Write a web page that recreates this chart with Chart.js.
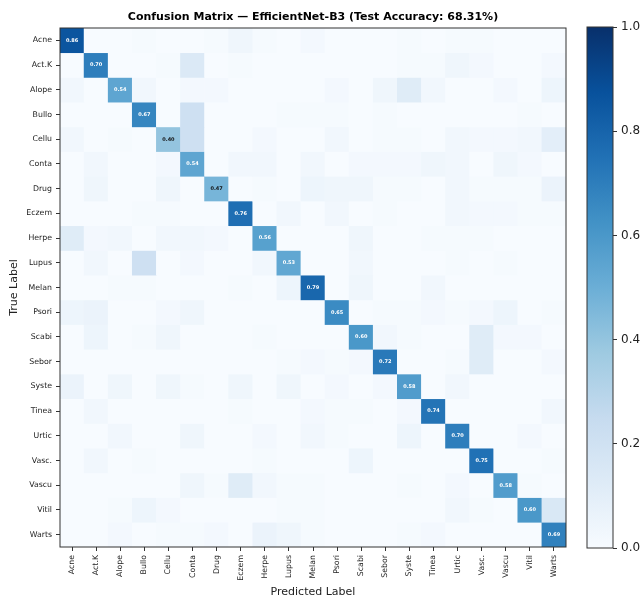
<!DOCTYPE html>
<html>
<head>
<meta charset="utf-8">
<script src="https://cdn.jsdelivr.net/npm/chart.js@4"></script>
<style>
  html, body { margin: 0; padding: 0; background: #fff; }
  #wrap { position: relative; width: 641px; height: 599px; }
  #wrap canvas { position: absolute; top: 0; }
</style>
</head>
<body>
<div id="wrap">
  <canvas id="cm" width="641" height="599" style="left:0"></canvas>
  <canvas id="cbar" width="66" height="599" style="left:575px"></canvas>
</div>
<script>
// class names, row = true label, column = predicted label
const classes = ['Acne', 'Act.K', 'Alope', 'Bullo', 'Cellu', 'Conta', 'Drug', 'Eczem', 'Herpe', 'Lupus',
  'Melan', 'Psori', 'Scabi', 'Sebor', 'Syste', 'Tinea', 'Urtic', 'Vasc.', 'Vascu', 'Vitil', 'Warts'];

// normalized confusion matrix (off-diagonals estimated from shading)
const matrix = [
  [0.86,0,0,0.01,0,0,0.01,0.04,0.01,0,0.02,0,0,0,0.01,0,0.01,0.01,0,0,0],
  [0,0.70,0,0,0.01,0.14,0,0.01,0,0,0,0,0,0,0.01,0.01,0.04,0.02,0,0,0.02],
  [0.03,0,0.54,0.03,0,0.02,0.02,0,0,0,0,0.02,0,0.04,0.12,0.03,0,0,0.02,0,0.05],
  [0,0,0,0.67,0,0.21,0,0,0,0.01,0.01,0.01,0,0.01,0,0,0,0,0,0.01,0],
  [0.03,0,0.01,0,0.40,0.21,0,0,0.02,0,0,0.03,0,0.01,0.01,0,0.03,0.02,0.02,0.03,0.10],
  [0,0.03,0,0,0.02,0.54,0,0.03,0.03,0,0.03,0,0.02,0.02,0.02,0.04,0.03,0,0.04,0.02,0],
  [0,0.04,0,0,0.04,0,0.47,0,0.01,0,0.05,0.04,0.04,0.01,0.01,0,0.03,0.01,0.01,0.01,0.06],
  [0,0,0,0.01,0.01,0,0,0.76,0,0.03,0,0.03,0,0.01,0,0,0.03,0.02,0.02,0.01,0.01],
  [0.12,0.02,0.03,0,0.03,0.03,0.02,0,0.56,0,0,0,0.04,0,0,0.01,0.01,0.01,0,0,0],
  [0,0.03,0,0.21,0,0.02,0,0,0.03,0.53,0,0,0.03,0,0,0,0.01,0,0.01,0,0],
  [0,0,0.01,0.01,0,0,0,0.01,0,0.05,0.79,0,0.04,0,0,0.03,0,0,0,0,0],
  [0.05,0.06,0,0,0.02,0.04,0,0,0,0,0,0.65,0,0.01,0.01,0.02,0.01,0.02,0.05,0,0.01],
  [0,0.05,0,0.01,0.04,0,0,0,0.01,0,0,0,0.60,0.03,0.01,0,0,0.12,0.02,0.02,0],
  [0,0,0,0,0,0,0,0,0,0.01,0.02,0.01,0.02,0.72,0,0,0.01,0.12,0,0,0.02],
  [0.06,0,0.04,0,0.04,0.01,0,0.04,0,0.04,0,0.02,0,0.02,0.58,0,0.03,0,0,0,0],
  [0,0.03,0,0,0,0,0,0.01,0,0,0.02,0.01,0.01,0,0.02,0.74,0,0,0,0,0.03],
  [0,0,0.03,0,0,0.04,0,0,0.02,0,0.03,0.01,0,0,0.05,0,0.70,0,0,0.02,0],
  [0,0.03,0,0.01,0,0,0,0,0.01,0,0,0,0.05,0,0,0,0,0.75,0,0,0.01],
  [0,0,0,0,0,0.04,0.01,0.12,0.03,0.01,0.01,0,0,0,0.01,0,0.02,0,0.58,0.01,0],
  [0,0,0.01,0.05,0.02,0,0,0,0,0.01,0.01,0,0,0,0,0,0.03,0.01,0,0.60,0.15],
  [0,0,0.02,0,0.01,0.01,0.02,0,0.06,0.04,0.01,0,0,0,0.01,0.02,0,0,0,0,0.69]
];

const colorbarTicks = [0, 0.2, 0.4, 0.6, 0.8, 1.0];
const titleText = 'Confusion Matrix \u2014 EfficientNet-B3 (Test Accuracy: 68.31%)';

// matplotlib "Blues"
const bluesStops = ['#f7fbff', '#deebf7', '#c6dbef', '#9ecae1', '#6baed6', '#4292c6', '#2171b5', '#08519c', '#08306b'];

function hexRgb(h) {
  return [parseInt(h.slice(1, 3), 16), parseInt(h.slice(3, 5), 16), parseInt(h.slice(5, 7), 16)];
}

function blues(v) {
  const t = Math.max(0, Math.min(1, v)) * (bluesStops.length - 1);
  const i = Math.min(Math.floor(t), bluesStops.length - 2);
  const f = t - i;
  const a = hexRgb(bluesStops[i]), b = hexRgb(bluesStops[i + 1]);
  const c = a.map((x, k) => Math.round(x + (b[k] - x) * f));
  return `rgb(${c[0]},${c[1]},${c[2]})`;
}

Chart.defaults.font.family = '"DejaVu Sans", sans-serif';
Chart.defaults.color = '#222';

// frame around the chart area (matplotlib spines)
const frame = {
  id: 'frame',
  afterDatasetsDraw(chart) {
    const { ctx, chartArea: a } = chart;
    ctx.save();
    ctx.strokeStyle = '#333';
    ctx.lineWidth = 1;
    ctx.strokeRect(a.left, a.top, a.right - a.left, a.bottom - a.top);
    ctx.restore();
  }
};

// paint the zero colour under the cells so no seams show
const cellBg = {
  id: 'cellBg',
  beforeDatasetsDraw(chart) {
    const { ctx, chartArea: a } = chart;
    ctx.save();
    ctx.fillStyle = blues(0);
    ctx.fillRect(a.left, a.top, a.right - a.left, a.bottom - a.top);
    ctx.restore();
  }
};

// value text in the diagonal cells
const cellText = {
  id: 'cellText',
  afterDatasetsDraw(chart) {
    const { ctx } = chart;
    ctx.save();
    ctx.font = 'bold 5px "DejaVu Sans"';
    ctx.textAlign = 'center';
    ctx.textBaseline = 'middle';
    matrix.forEach((row, r) => {
      const meta = chart.getDatasetMeta(r);
      row.forEach((v, c) => {
        if (v < 0.3) return;
        const p = meta.data[c].getCenterPoint();
        ctx.fillStyle = v > 0.5 ? '#fff' : '#111';
        ctx.fillText(v.toFixed(2), p.x, p.y);
      });
    });
    ctx.restore();
  }
};

const titlePlugin = {
  id: 'titlePlugin',
  afterDraw(chart) {
    const { ctx, chartArea: a } = chart;
    ctx.save();
    ctx.font = 'bold 11px "DejaVu Sans"';
    ctx.fillStyle = '#000';
    ctx.textAlign = 'center';
    ctx.textBaseline = 'middle';
    ctx.fillText(titleText, (a.left + a.right) / 2, 17);
    ctx.restore();
  }
};

const datasets = matrix.map((row, r) => ({
  label: classes[r],
  data: row.map(() => [r - 0.5, r + 0.5]),
  backgroundColor: row.map(blues),
  borderWidth: 0,
  barPercentage: 1,
  categoryPercentage: 1,
  grouped: false
}));

new Chart(document.getElementById('cm'), {
  type: 'bar',
  data: { labels: classes, datasets },
  plugins: [cellBg, cellText, frame, titlePlugin],
  options: {
    responsive: false,
    animation: false,
    layout: { padding: { top: 28, right: 75, left: 0, bottom: 0 } },
    plugins: { legend: { display: false }, tooltip: { enabled: false } },
    scales: {
      x: {
        type: 'category',
        grid: { offset: false, drawOnChartArea: false, drawTicks: true, tickLength: 4, color: '#333' },
        border: { display: false },
        ticks: { font: { size: 7.8 }, color: '#222', minRotation: 90, maxRotation: 90, padding: 4, autoSkip: false },
        title: { display: true, text: 'Predicted Label', font: { size: 11 }, color: '#222', padding: { top: 0, bottom: 0 } },
        afterFit: s => { s.height = 52; }
      },
      y: {
        type: 'linear',
        min: -0.5,
        max: 20.5,
        reverse: true,
        afterBuildTicks: s => { s.ticks = classes.map((_, i) => ({ value: i })); },
        grid: { drawOnChartArea: false, drawTicks: true, tickLength: 4, color: '#333' },
        border: { display: false },
        ticks: { callback: v => classes[v], font: { size: 7.8 }, color: '#222', padding: 4, autoSkip: false },
        title: { display: true, text: 'True Label', font: { size: 11 }, color: '#222', padding: { top: 7.5, bottom: 0 } },
        afterFit: s => { s.width = 60; }
      }
    }
  }
});

// colorbar
new Chart(document.getElementById('cbar'), {
  type: 'bar',
  data: {
    labels: ['cb'],
    datasets: [{
      data: [[colorbarTicks[0], colorbarTicks[colorbarTicks.length - 1]]],
      backgroundColor: (c) => {
        const a = c.chart.chartArea;
        if (!a) return blues(0.5);
        const g = c.chart.ctx.createLinearGradient(0, a.bottom, 0, a.top);
        bluesStops.forEach((col, i) => g.addColorStop(i / (bluesStops.length - 1), col));
        return g;
      },
      borderWidth: 0,
      barPercentage: 1,
      categoryPercentage: 1
    }]
  },
  plugins: [frame],
  options: {
    responsive: false,
    animation: false,
    layout: { padding: { top: 27, bottom: 51, left: 12, right: 0 } },
    plugins: { legend: { display: false }, tooltip: { enabled: false } },
    scales: {
      x: { display: false },
      y: {
        position: 'right',
        min: 0,
        max: 1,
        afterBuildTicks: s => { s.ticks = colorbarTicks.map(v => ({ value: v })); },
        grid: { drawOnChartArea: false, drawTicks: true, tickLength: 4, color: '#333' },
        border: { display: false },
        ticks: { callback: v => v.toFixed(1), font: { size: 12 }, color: '#222', padding: 4 },
        afterFit: s => { s.width = 28; }
      }
    }
  }
});
</script>
</body>
</html>
